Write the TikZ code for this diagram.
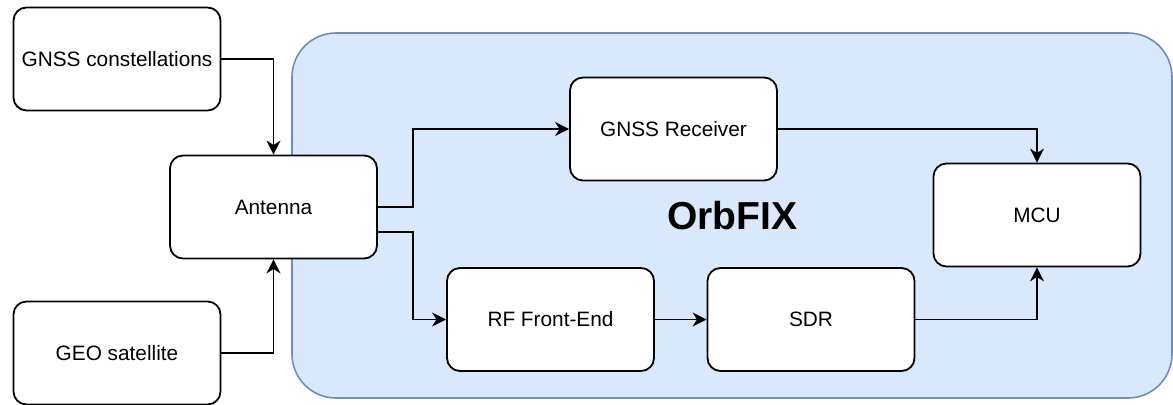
\documentclass[tikz,border=0pt]{standalone}
\usepackage{fontspec}
\setmainfont{Liberation Sans}
\usetikzlibrary{arrows.meta}

\definecolor{grpfill}{HTML}{DAE8FC}
\definecolor{grpline}{HTML}{6C8EBF}

\tikzset{
    block/.style={draw, rectangle, rounded corners=6.5pt, line width=0.9pt, fill=white,
        minimum width=103.5pt, minimum height=51.5pt, inner sep=0pt,
        font=\fontsize{10.4}{12}\selectfont},
    group/.style={draw=grpline, fill=grpfill, rounded corners=22pt, line width=0.8pt,
        minimum width=440pt, minimum height=182.5pt, inner sep=0pt,
        font=\fontsize{19.5}{22}\selectfont\bfseries},
    arr/.style={-{Stealth[length=7pt,width=7pt,inset=2.2pt]}, line width=0.9pt},
}

\begin{document}
\begin{tikzpicture}[x=0.5pt, y=-0.5pt]
    \useasboundingbox (0,0) rectangle (1173,405);
    \node[group] (orb) at (732,215.5) {OrbFIX};
    \node[block] (cons) at (117,59) {GNSS constellations};
    \node[block] (geo) at (117,353) {GEO satellite};
    \node[block] (ant) at (273.5,207) {Antenna};
    \node[block] (rx) at (673.5,129) {GNSS Receiver};
    \node[block] (rf) at (550.5,319.5) {RF Front-End};
    \node[block] (sdr) at (811,319.5) {SDR};
    \node[block] (mcu) at (1037,215) {MCU};
    \draw[arr] (cons.east) -| (ant.north);
    \draw[arr] (geo.east) -| (ant.south);
    \draw[arr] (ant.east) -- ++(35,0) |- (rx.west);
    \draw[arr] ([yshift=-12.5pt]ant.east) -- ++(35,0) |- (rf.west);
    \draw[arr] (rx.east) -| (mcu.north);
    \draw[arr] (rf.east) -- (sdr.west);
    \draw[arr] (sdr.east) -| (mcu.south);
\end{tikzpicture}
\end{document}
